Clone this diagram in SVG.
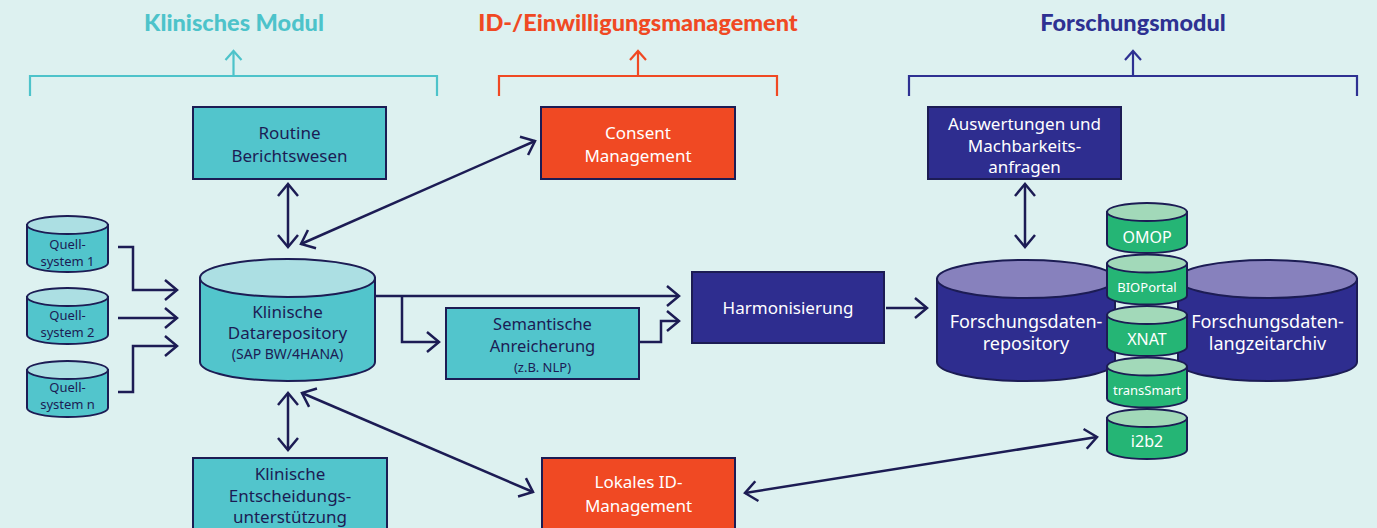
<svg xmlns="http://www.w3.org/2000/svg" width="1377" height="528" viewBox="0 0 1377 528">
  <style>
    text { font-family: "Noto Sans", "Open Sans", sans-serif; text-anchor: middle; }
    .hdr { font-family: Lato, "Noto Sans", sans-serif; font-weight: 900; font-size: 23.5px; }
    .lbl { font-size: 17px; }
    .sm { font-size: 14px; }
    .xs { font-size: 13px; }
    .dk { fill: #1c1c54; }
    .wt { fill: #ffffff; }
    .box { stroke: #1c1c54; stroke-width: 2; }
    .teal { fill: #52c5cc; }
    .tealTop { fill: #acdfe3; }
    .navy { fill: #2e2d8f; }
    .navyTop { fill: #8781bd; }
    .orange { fill: #f04923; }
    .green { fill: #25b575; }
    .greenTop { fill: #a2d9b9; }
    .cyl { stroke: #1c1c54; stroke-width: 2; }
    .conn { fill: none; stroke: #1c1c54; stroke-width: 2.5; }
    .brk { fill: none; stroke-width: 2.2; }
  </style>
  <defs>
    <marker id="arr" markerUnits="userSpaceOnUse" viewBox="-14 -12 16 24" refX="0" refY="0" markerWidth="16" markerHeight="24" orient="auto-start-reverse">
      <path d="M-12,-10 L0,0 L-12,10" fill="none" stroke="#1c1c54" stroke-width="2.5"/>
    </marker>
    <marker id="arrTeal" markerUnits="userSpaceOnUse" viewBox="-12 -10 14 20" refX="0" refY="0" markerWidth="14" markerHeight="20" orient="auto">
      <path d="M-9,-8 L0,0 L-9,8" fill="none" stroke="#4dc3ca" stroke-width="2.2"/>
    </marker>
    <marker id="arrOrange" markerUnits="userSpaceOnUse" viewBox="-12 -10 14 20" refX="0" refY="0" markerWidth="14" markerHeight="20" orient="auto">
      <path d="M-9,-8 L0,0 L-9,8" fill="none" stroke="#f04923" stroke-width="2.2"/>
    </marker>
    <marker id="arrNavy" markerUnits="userSpaceOnUse" viewBox="-12 -10 14 20" refX="0" refY="0" markerWidth="14" markerHeight="20" orient="auto">
      <path d="M-9,-8 L0,0 L-9,8" fill="none" stroke="#2e3192" stroke-width="2.2"/>
    </marker>
  </defs>

  <rect width="1377" height="528" fill="#ddf1f0"/>

  <!-- module headers with brackets -->
  <g id="hdr-klinisch">
    <text class="hdr" x="234" y="31" fill="#4dc3ca">Klinisches Modul</text>
    <path class="brk" stroke="#4dc3ca" d="M30,96 V76 H437 V96 M233.5,76 V51" marker-end="url(#arrTeal)"/>
  </g>
  <g id="hdr-id">
    <text class="hdr" x="638" y="31" fill="#f04923">ID-/Einwilligungsmanagement</text>
    <path class="brk" stroke="#f04923" d="M499,96 V76 H777 V96 M638,76 V51" marker-end="url(#arrOrange)"/>
  </g>
  <g id="hdr-forschung">
    <text class="hdr" x="1133" y="31" fill="#2e3192">Forschungsmodul</text>
    <path class="brk" stroke="#2e3192" d="M909,96 V76 H1357 V96 M1133,76 V51" marker-end="url(#arrNavy)"/>
  </g>

  <!-- connectors -->
  <g id="connectors">
    <path class="conn" d="M118,247 H133 V290 H177" marker-end="url(#arr)"/>
    <path class="conn" d="M118,318 H177" marker-end="url(#arr)"/>
    <path class="conn" d="M118,392 H133 V346 H177" marker-end="url(#arr)"/>
    <path class="conn" d="M288,184 V247" marker-start="url(#arr)" marker-end="url(#arr)"/>
    <path class="conn" d="M535,141 L301,244" marker-start="url(#arr)" marker-end="url(#arr)"/>
    <path class="conn" d="M288,393 V450" marker-start="url(#arr)" marker-end="url(#arr)"/>
    <path class="conn" d="M302,393 L533,492" marker-start="url(#arr)" marker-end="url(#arr)"/>
    <path class="conn" d="M375,296 H679" marker-end="url(#arr)"/>
    <path class="conn" d="M402,296 V342 H439" marker-end="url(#arr)"/>
    <path class="conn" d="M639,342 H661 V321 H679" marker-end="url(#arr)"/>
    <path class="conn" d="M886,308 H927" marker-end="url(#arr)"/>
    <path class="conn" d="M1025,184 V247" marker-start="url(#arr)" marker-end="url(#arr)"/>
    <path class="conn" d="M745,493 L1097,437" marker-start="url(#arr)" marker-end="url(#arr)"/>
  </g>

  <!-- clinical module -->
  <g id="routine">
    <rect class="box teal" x="193" y="107" width="193" height="72"/>
    <text class="lbl dk" x="289.5" y="139">Routine</text>
    <text class="lbl dk" x="289.5" y="162">Berichtswesen</text>
  </g>

  <g id="quell-1">
    <path class="cyl teal" d="M27,225 V263 A40.5,9 0 0 0 108,263 V225 Z"/>
    <ellipse class="cyl tealTop" cx="67.5" cy="225" rx="40.5" ry="9"/>
    <text class="xs dk" x="67.5" y="249">Quell-</text>
    <text class="xs dk" x="67.5" y="266">system 1</text>
  </g>
  <g id="quell-2">
    <path class="cyl teal" d="M27,297 V335 A40.5,9 0 0 0 108,335 V297 Z"/>
    <ellipse class="cyl tealTop" cx="67.5" cy="297" rx="40.5" ry="9"/>
    <text class="xs dk" x="67.5" y="320">Quell-</text>
    <text class="xs dk" x="67.5" y="337">system 2</text>
  </g>
  <g id="quell-n">
    <path class="cyl teal" d="M27,370 V408 A40.5,9 0 0 0 108,408 V370 Z"/>
    <ellipse class="cyl tealTop" cx="67.5" cy="370" rx="40.5" ry="9"/>
    <text class="xs dk" x="67.5" y="392">Quell-</text>
    <text class="xs dk" x="67.5" y="409">system n</text>
  </g>

  <g id="klinische-datarepository">
    <path class="cyl teal" d="M200,278 V362 A87.5,19 0 0 0 375,362 V278 Z"/>
    <ellipse class="cyl tealTop" cx="287.5" cy="278" rx="87.5" ry="19"/>
    <text class="lbl dk" x="287.5" y="318">Klinische</text>
    <text class="lbl dk" x="287.5" y="339">Datarepository</text>
    <text class="sm dk" x="287.5" y="359">(SAP BW/4HANA)</text>
  </g>

  <g id="semantische-anreicherung">
    <rect class="box teal" x="446" y="308" width="193" height="71"/>
    <text class="dk" x="542.5" y="329.5" style="font-size:16.5px">Semantische</text>
    <text class="dk" x="542.5" y="351.5" style="font-size:16.5px">Anreicherung</text>
    <text class="xs dk" x="542.5" y="372">(z.B. NLP)</text>
  </g>

  <g id="entscheidungsunterstuetzung">
    <rect class="box teal" x="193" y="458" width="194" height="80"/>
    <text class="lbl dk" x="290" y="480">Klinische</text>
    <text class="lbl dk" x="290" y="502">Entscheidungs-</text>
    <text class="lbl dk" x="290" y="523">unterstützung</text>
  </g>

  <!-- id / consent management -->
  <g id="consent-management">
    <rect class="box orange" x="541" y="107" width="194" height="72"/>
    <text class="lbl wt" x="638" y="139">Consent</text>
    <text class="lbl wt" x="638" y="162">Management</text>
  </g>
  <g id="lokales-id-management">
    <rect class="box orange" x="542" y="458" width="193" height="80"/>
    <text class="lbl wt" x="638.5" y="488">Lokales ID-</text>
    <text class="lbl wt" x="638.5" y="512">Management</text>
  </g>

  <!-- research module -->
  <g id="harmonisierung">
    <rect class="box navy" x="692" y="272" width="192" height="71"/>
    <text class="lbl wt" x="788" y="314">Harmonisierung</text>
  </g>

  <g id="auswertungen">
    <rect class="box navy" x="928" y="107" width="193" height="72"/>
    <text class="lbl wt" x="1024.5" y="130">Auswertungen und</text>
    <text class="lbl wt" x="1024.5" y="152">Machbarkeits-</text>
    <text class="lbl wt" x="1024.5" y="173">anfragen</text>
  </g>

  <g id="forschungsdatenrepository">
    <path class="cyl navy" d="M937,279 V362 A89,19 0 0 0 1115,362 V279 Z"/>
    <ellipse class="cyl navyTop" cx="1026" cy="279" rx="89" ry="19"/>
    <text class="wt" x="1026" y="328" style="font-size:18px">Forschungsdaten-</text>
    <text class="wt" x="1026" y="350" style="font-size:18px">repository</text>
  </g>

  <g id="forschungsdatenlangzeitarchiv">
    <path class="cyl navy" d="M1178,279 V362 A89.5,19 0 0 0 1357,362 V279 Z"/>
    <ellipse class="cyl navyTop" cx="1267.5" cy="279" rx="89.5" ry="19"/>
    <text class="wt" x="1267.5" y="328" style="font-size:18px">Forschungsdaten-</text>
    <text class="wt" x="1267.5" y="350" style="font-size:18px">langzeitarchiv</text>
  </g>

  <g id="omop">
    <path class="cyl green" d="M1107,212 V244 A40,9 0 0 0 1187,244 V212 Z"/>
    <ellipse class="cyl greenTop" cx="1147" cy="212" rx="40" ry="9"/>
    <text class="wt" x="1147" y="242.5" style="font-size:16px">OMOP</text>
  </g>
  <g id="bioportal">
    <path class="cyl green" d="M1107,263.5 V295.5 A40,9 0 0 0 1187,295.5 V263.5 Z"/>
    <ellipse class="cyl greenTop" cx="1147" cy="263.5" rx="40" ry="9"/>
    <text class="wt" x="1147" y="291.5" style="font-size:13px">BIOPortal</text>
  </g>
  <g id="xnat">
    <path class="cyl green" d="M1107,315 V347 A40,9 0 0 0 1187,347 V315 Z"/>
    <ellipse class="cyl greenTop" cx="1147" cy="315" rx="40" ry="9"/>
    <text class="wt" x="1147" y="344.5" style="font-size:16px">XNAT</text>
  </g>
  <g id="transsmart">
    <path class="cyl green" d="M1107,366.5 V398.5 A40,9 0 0 0 1187,398.5 V366.5 Z"/>
    <ellipse class="cyl greenTop" cx="1147" cy="366.5" rx="40" ry="9"/>
    <text class="wt" x="1147" y="394.5" style="font-size:13px">transSmart</text>
  </g>
  <g id="i2b2">
    <path class="cyl green" d="M1107,418 V450 A40,9 0 0 0 1187,450 V418 Z"/>
    <ellipse class="cyl greenTop" cx="1147" cy="418" rx="40" ry="9"/>
    <text class="wt" x="1147" y="446.5" style="font-size:16px">i2b2</text>
  </g>
</svg>
